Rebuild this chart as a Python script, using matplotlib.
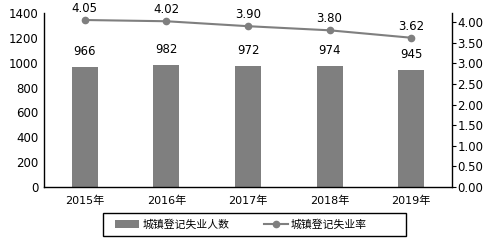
import matplotlib
matplotlib.use("Agg")
import matplotlib.pyplot as plt
from matplotlib.patches import Rectangle

plt.rcParams['font.family'] = ['DejaVu Sans', 'Noto Sans CJK SC']

years = ['2015年', '2016年', '2017年', '2018年', '2019年']
unemployed = [966, 982, 972, 974, 945]
rate = [4.05, 4.02, 3.90, 3.80, 3.62]

W, H = 492, 243
fig = plt.figure(figsize=(W / 100, H / 100), dpi=100)
ax = fig.add_axes([44 / W, 1 - 187 / H, 408 / W, 174 / H])
x = list(range(len(years)))

bar_color = '#7f7f7f'
ax.bar(x, unemployed, width=0.32, color=bar_color, label='城镇登记失业人数')
ax.set_ylim(0, 1400)
ax.set_xlim(-0.5, len(years) - 0.5)
ax.set_yticks(range(0, 1401, 200))
ax.set_xticks(x)
ax.set_xticklabels(years, fontsize=8, family=['DejaVu Sans', 'Noto Sans CJK SC'])
ax.tick_params(axis='y', labelsize=8.5, length=0, pad=4)
ax.tick_params(axis='x', length=0, pad=6)
for s in ['top', 'right']:
    ax.spines[s].set_visible(False)
ax.spines['left'].set_linewidth(1)
ax.spines['bottom'].set_linewidth(1)

for i, v in enumerate(unemployed):
    ax.text(i, v + 70, str(v), ha='center', va='bottom', fontsize=8.5)

ax2 = ax.twinx()
ax2.plot(x, rate, color=bar_color, marker='o', markersize=4.5, linewidth=1.5,
         label='城镇登记失业率')
ax2.set_ylim(0, 4.22)
ax2.set_yticks([0, 0.5, 1, 1.5, 2, 2.5, 3, 3.5, 4])
ax2.set_yticklabels([f'{t:.2f}' for t in ax2.get_yticks()])
ax2.tick_params(axis='y', labelsize=8.5, length=3, pad=1)
for s in ['top', 'left', 'bottom']:
    ax2.spines[s].set_visible(False)
ax2.spines['right'].set_linewidth(1)

for i, v in enumerate(rate):
    ax2.text(i, v + 0.12, f'{v:.2f}', ha='center', va='bottom', fontsize=8.5)

# legend entries, with an Excel-style wide frame drawn separately
h1, l1 = ax.get_legend_handles_labels()
h2, l2 = ax2.get_legend_handles_labels()
fig.legend(h1 + h2, l1 + l2, loc='center left', bbox_to_anchor=(115 / W, 1 - 224.5 / H),
           ncol=2, frameon=False, handlelength=2.2, columnspacing=3.2,
           borderpad=0, borderaxespad=0, handletextpad=0.3,
           prop={'family': ['Noto Sans CJK SC'], 'size': 7.8})
fig.patches.append(Rectangle((103 / W, 1 - 236 / H), 303 / W, 23 / H,
                             transform=fig.transFigure, fill=False,
                             edgecolor='black', linewidth=1))

fig.savefig('out.png', dpi=100)
